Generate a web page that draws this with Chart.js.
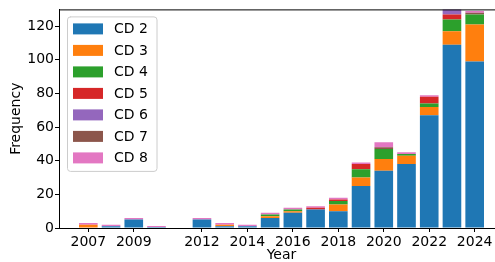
<!DOCTYPE html>
<html>
<head>
<meta charset="utf-8">
<script src="https://cdn.jsdelivr.net/npm/chart.js@4.4.0/dist/chart.umd.min.js"></script>
<style>
html,body{margin:0;padding:0;overflow:hidden;background:#fff;width:495px;height:262px;}
canvas{display:block;}
</style>
</head>
<body>
<canvas id="c" width="510" height="262"></canvas>
<script>
// ---- data ----
const years = [2007,2008,2009,2010,2012,2013,2014,2015,2016,2017,2018,2019,2020,2021,2022,2023,2024];
const cd2 = [0,1,5,0.6,5,1,1,6,9,11,10,25,34,38,67,109,99];
const cd3 = [2,0,0,0,0,1,0,1,1,0,4,5,7,5,5,8,22];
const cd4 = [0,0,0,0,0,0,0,1,1,0,2,5,6,1,2,7,6];
const cd5 = [0,0,0,0,0,0,0,0,0,1,1,3,0,0,4,3,0];
const cd6 = [0,0,0,0,0,0,0,0,0,0,0,0,0,0,0,4,0];
const cd7 = [0,0,0,0,0,0,0,0,0,0,0,0,1,0,0,0,1];
const cd8 = [1,1,1,0.6,1,1,1,1,1,1,1,1,3,1,1,0,1];
const seriesLabels = ['CD 2','CD 3','CD 4','CD 5','CD 6','CD 7','CD 8'];
const xTicks = [2007,2009,2012,2014,2016,2018,2020,2022,2024];
const yTicks = [0,20,40,60,80,100,120];

const colors = ['#1f77b4','#ff7f0e','#2ca02c','#d62728','#9467bd','#8c564b','#e377c2'];
const seriesValues = [cd2,cd3,cd4,cd5,cd6,cd7,cd8];

const FONT = '"DejaVu Sans", sans-serif';
Chart.defaults.font.family = FONT;
Chart.defaults.font.size = 14;
Chart.defaults.color = '#000';

const datasets = seriesValues.map((vals, i) => ({
  label: seriesLabels[i],
  data: years.map((y, j) => ({x: y, y: vals[j]})),
  backgroundColor: colors[i],
  borderWidth: 0,
  barPercentage: 1.0,
  categoryPercentage: 0.82,
  grouped: false
}));

const framePlugin = {
  id: 'frame',
  afterDraw(chart) {
    const {ctx, chartArea: a} = chart;
    ctx.save();
    ctx.strokeStyle = '#000';
    ctx.lineWidth = 1;
    ctx.beginPath();
    ctx.moveTo(a.left, a.top + 0.5);
    ctx.lineTo(a.right, a.top + 0.5);
    ctx.moveTo(a.right - 0.5, a.top);
    ctx.lineTo(a.right - 0.5, a.bottom);
    ctx.stroke();

    // legend (matplotlib style, upper left)
    const bx = a.left + 8, by = a.top + 7, bw = 90, bh = 155, r = 3;
    ctx.fillStyle = 'rgba(255,255,255,0.8)';
    ctx.strokeStyle = '#cccccc';
    ctx.beginPath();
    ctx.moveTo(bx + r, by + 0.5);
    ctx.arcTo(bx + bw, by + 0.5, bx + bw, by + bh, r);
    ctx.arcTo(bx + bw, by + bh, bx, by + bh, r);
    ctx.arcTo(bx + 0.5, by + bh, bx + 0.5, by, r);
    ctx.arcTo(bx + 0.5, by + 0.5, bx + bw, by + 0.5, r);
    ctx.closePath();
    ctx.fill();
    ctx.stroke();
    ctx.font = '14px ' + FONT;
    ctx.textBaseline = 'middle';
    ctx.textAlign = 'left';
    chart.data.datasets.forEach((ds, i) => {
      const cy = by + 12.5 + i * 21.5;
      ctx.fillStyle = ds.backgroundColor;
      ctx.fillRect(bx + 6, cy - 5.5, 30, 11);
      ctx.fillStyle = '#000';
      ctx.fillText(ds.label, bx + 47, cy + 0.5);
    });
    ctx.restore();
  }
};

new Chart(document.getElementById('c'), {
  type: 'bar',
  data: {datasets},
  plugins: [framePlugin],
  options: {
    responsive: false,
    animation: false,
    devicePixelRatio: 1,
    layout: {padding: {left: 0, top: 8, right: 6, bottom: 0}},
    plugins: {legend: {display: false}, tooltip: {enabled: false}},
    scales: {
      x: {
        type: 'linear',
        stacked: true,
        offset: false,
        min: 2005.71,
        max: 2025.29,
        afterBuildTicks: s => { s.ticks = xTicks.map(v => ({value: v})); },
        afterFit: s => { s.height = 34; },
        ticks: {padding: 2, autoSkip: false, maxRotation: 0, callback: v => String(v), font: {size: 14}},
        grid: {offset: false, drawOnChartArea: false, drawTicks: true, tickLength: 4, tickColor: '#000', tickWidth: 1},
        border: {display: true, color: '#000', width: 1},
        title: {display: true, text: 'Year', font: {size: 14, lineHeight: 1}, padding: {top: 0, bottom: 0}}
      },
      y: {
        stacked: true,
        min: 0,
        max: 130,
        afterBuildTicks: s => { s.ticks = yTicks.map(v => ({value: v})); },
        afterFit: s => { s.width = 59; },
        ticks: {padding: 1, font: {size: 14}},
        grid: {offset: false, drawOnChartArea: false, drawTicks: true, tickLength: 4, tickColor: '#000', tickWidth: 1},
        border: {display: true, color: '#000', width: 1},
        title: {display: true, text: 'Frequency', font: {size: 14}, padding: {top: 8, bottom: 0}}
      }
    }
  }
});
</script>
</body>
</html>
